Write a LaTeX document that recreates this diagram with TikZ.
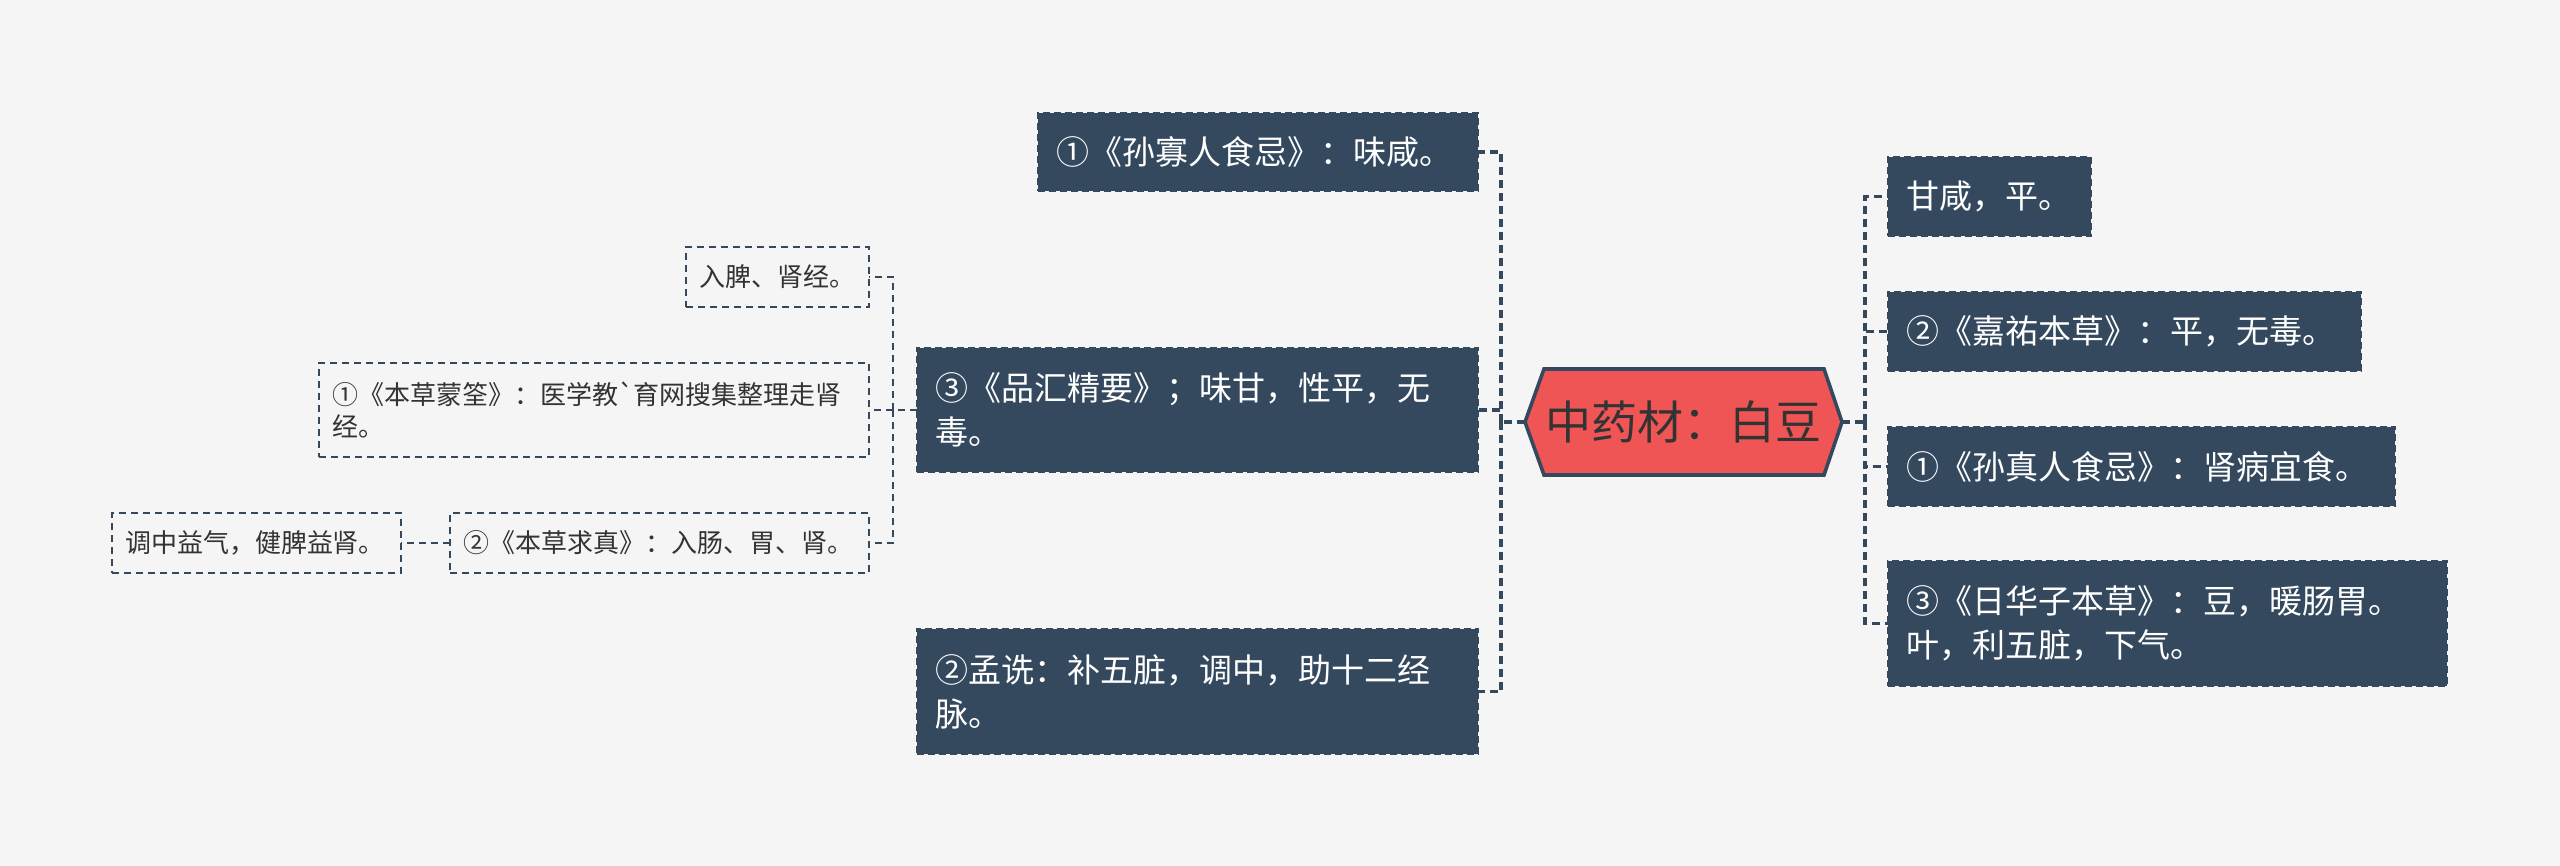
\documentclass[tikz,border=0pt]{standalone}
\usepackage{fontspec}
\newfontfamily\cjk{Noto Sans CJK SC}
\usetikzlibrary{backgrounds}
\definecolor{bgc}{HTML}{F5F5F5}
\definecolor{navy}{HTML}{34495E}
\definecolor{hexred}{HTML}{EF5555}
\definecolor{ink}{HTML}{333333}
\tikzset{
  bigbox/.style={draw=navy, fill=navy, dash pattern=on 3.5pt off 2pt, line width=1pt,
    text=white, align=left, inner xsep=9pt, inner ysep=2pt, outer sep=0pt,
    font=\fontsize{16.5}{22}\selectfont\cjk},
  smallbox/.style={draw=navy, dash pattern=on 3.5pt off 2.5pt, line width=1pt,
    text=ink, align=left, inner xsep=6.5pt, inner ysep=2pt, outer sep=0pt,
    font=\fontsize{13}{16}\selectfont\cjk},
  conn/.style={draw=navy, line width=1.6pt, dash pattern=on 4pt off 2.5pt},
  subconn/.style={draw=navy, line width=1.2pt, dash pattern=on 3.5pt off 2.5pt},
  hexshape/.style={draw=navy, fill=hexred, line width=1.8pt, line join=miter},
  roottext/.style={text=ink, inner sep=0pt, outer sep=0pt, minimum width=158.5pt,
    minimum height=53pt, font=\fontsize{23}{28}\selectfont\cjk},
}
\begin{document}
\begin{tikzpicture}[x=0.5pt,y=-0.5pt]
\useasboundingbox (0,0) rectangle (2560,866);

% central node
\node[roottext] (root) at (1683.5,422) {中药材：白豆};

\begin{scope}[on background layer]
  \fill[bgc] (0,0) rectangle (2560,866);
  \draw[hexshape] (root.west) -- ([xshift=9.5pt]root.north west) -- ([xshift=-9pt]root.north east)
    -- (root.east) -- ([xshift=-9pt]root.south east) -- ([xshift=9.5pt]root.south west) -- cycle;
\end{scope}

% right branch
\node[bigbox, text width=83.5pt, minimum height=39.5pt] (r1) at (1989.5,196.5) {甘咸，平。};
\node[bigbox, text width=218.5pt, minimum height=39.5pt] (r2) at (2124.5,331.5) {②《嘉祐本草》：平，无毒。};
\node[bigbox, text width=235.5pt, minimum height=39.5pt] (r3) at (2141.5,466.5) {①《孙真人食忌》：肾病宜食。};
\node[bigbox, text width=261.5pt, minimum height=62.5pt] (r4) at (2167.5,623.5) {③《日华子本草》：豆，暖肠胃。\\叶，利五脏，下气。};

% left branch
\node[bigbox, text width=202pt, minimum height=39pt] (l1) at (1258,152) {①《孙寡人食忌》：味咸。};
\node[bigbox, text width=262.5pt, minimum height=62pt] (l2) at (1197.5,410) {③《品汇精要》；味甘，性平，无\\毒。};
\node[bigbox, text width=262.5pt, minimum height=62.5pt] (l3) at (1197.5,691.5) {②孟诜：补五脏，调中，助十二经\\脉。};

% sub branch
\node[smallbox, text width=78.5pt, minimum height=30pt] (s1) at (777.5,277) {入脾、肾经。};
\node[smallbox, text width=262pt, minimum height=47pt] (s2) at (594,410) {①《本草蒙筌》：医学教`育网搜集整理走肾\\经。};
\node[smallbox, text width=196.5pt, minimum height=30pt] (s3) at (659.5,543) {②《本草求真》：入肠、胃、肾。};
\node[smallbox, text width=131.5pt, minimum height=30pt] (s4) at (256.5,543) {调中益气，健脾益肾。};

% connectors
\coordinate (rb) at (1865,422);
\coordinate (lb) at (1501,422);
\coordinate (sb) at (893,410);

\draw[conn] (root.east) -- (rb);
\draw[conn] (rb) |- (r1.west);
\draw[conn] (rb) |- (r2.west);
\draw[conn] (rb) |- (r3.west);
\draw[conn] (rb) |- (r4.west);

\draw[conn] (root.west) -- (lb);
\draw[conn] (lb) |- (l1.east);
\draw[conn] (lb) |- (l2.east);
\draw[conn] (lb) |- (l3.east);

\draw[subconn] (l2.west) -- (sb);
\draw[subconn] (sb) |- (s1.east);
\draw[subconn] (sb) -- (s2.east);
\draw[subconn] (sb) |- (s3.east);
\draw[subconn] (s3.west) -- (s4.east);
\end{tikzpicture}
\end{document}
